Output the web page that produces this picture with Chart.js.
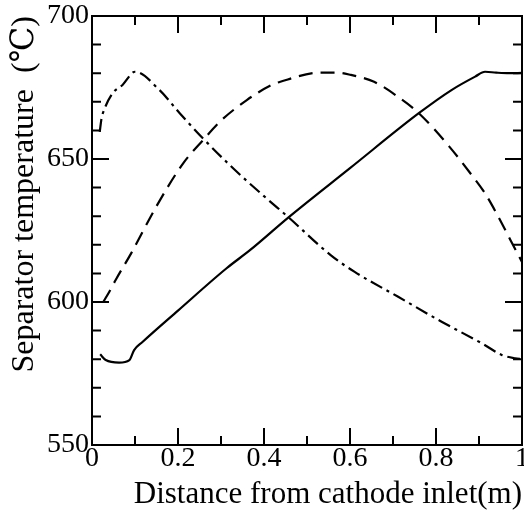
<!DOCTYPE html>
<html>
<head>
<meta charset="utf-8">
<script src="https://cdn.jsdelivr.net/npm/chart.js@4.4.1/dist/chart.umd.min.js"></script>
<style>
  html, body { margin: 0; padding: 0; background: #fff; }
  #wrap { width: 524px; height: 512px; }
</style>
</head>
<body>
<div id="wrap"><canvas id="c" width="524" height="512"></canvas></div>
<script>
// ---- data ----
const solidX = [0.019, 0.032, 0.063, 0.087, 0.098, 0.118, 0.2, 0.313, 0.368, 0.457, 0.6, 0.76, 0.836, 0.891, 0.914, 0.94, 0.97, 1.0];
const solidY = [581.7, 579.7, 578.8, 579.7, 583.2, 586.1, 597, 611.8, 618.2, 629.6, 646.8, 666, 674.1, 678.8, 680.5, 680.2, 680, 680.1];

const dashX = [0.026, 0.04, 0.055, 0.091, 0.15, 0.212, 0.26, 0.297, 0.36, 0.418, 0.438, 0.532, 0.571, 0.602, 0.656, 0.711, 0.76, 0.83, 0.883, 0.914, 0.945, 0.973, 1.0];
const dashY = [600, 603.5, 607.7, 617, 633.5, 648.5, 656.9, 663, 670.6, 675.9, 677, 680.2, 680.2, 679.4, 677, 671.8, 666, 654.5, 644.4, 638, 629.8, 621.7, 614];

const dashDotX = [0.018, 0.022, 0.028, 0.048, 0.071, 0.1, 0.157, 0.204, 0.26, 0.33, 0.4, 0.457, 0.555, 0.61, 0.711, 0.813, 0.906, 0.953, 0.984, 1.0];
const dashDotY = [659.5, 664, 667.1, 673, 675.9, 680.5, 674.1, 666, 656.9, 646.5, 637, 629.6, 616.4, 610.6, 601.9, 593.1, 585.6, 581.5, 580.3, 580];

const xTickValues = [0, 0.2, 0.4, 0.6, 0.8, 1];
const xTickLabels = ['0', '0.2', '0.4', '0.6', '0.8', '1'];
const xMinorTicks = [0.1, 0.3, 0.5, 0.7, 0.9];
const yTickValues = [550, 600, 650, 700];
const yTickLabels = ['550', '600', '650', '700'];
const yMinorTicks = [560, 570, 580, 590, 610, 620, 630, 640, 660, 670, 680, 690];

const xTitle = 'Distance from cathode inlet(m)';
const yTitle = 'Separator temperature  (\u2103)';

// ---- build ----
const pts = (xs, ys) => xs.map((x, i) => ({x: x, y: ys[i]}));
const FONT = "'Liberation Serif', 'Times New Roman', 'DejaVu Serif', serif";

const frameTicks = {
  id: 'frameTicks',
  afterDatasetsDraw(chart) {
    const {ctx, chartArea: a, scales: {x, y}} = chart;
    ctx.save();
    ctx.strokeStyle = '#000';
    ctx.lineWidth = 2;
    ctx.lineCap = 'butt';
    ctx.strokeRect(a.left, a.top, a.right - a.left, a.bottom - a.top);
    ctx.beginPath();
    const xt = (v, len) => {
      const p = x.getPixelForValue(v);
      ctx.moveTo(p, a.bottom); ctx.lineTo(p, a.bottom - len);
      ctx.moveTo(p, a.top); ctx.lineTo(p, a.top + len);
    };
    const yt = (v, len) => {
      const p = y.getPixelForValue(v);
      ctx.moveTo(a.left, p); ctx.lineTo(a.left + len, p);
      ctx.moveTo(a.right, p); ctx.lineTo(a.right - len, p);
    };
    xTickValues.forEach(v => xt(v, 17));
    xMinorTicks.forEach(v => xt(v, 9));
    yTickValues.forEach(v => yt(v, 17));
    yMinorTicks.forEach(v => yt(v, 9));
    ctx.stroke();
    ctx.restore();
  }
};

const common = {borderColor: '#000', borderWidth: 2.2, pointRadius: 0, fill: false, cubicInterpolationMode: 'monotone', borderCapStyle: 'butt'};

new Chart(document.getElementById('c'), {
  type: 'line',
  data: {
    datasets: [
      Object.assign({label: 'solid', data: pts(solidX, solidY), borderDash: []}, common),
      Object.assign({label: 'dashed', data: pts(dashX, dashY), borderDash: [14, 8]}, common),
      Object.assign({label: 'dashdot', data: pts(dashDotX, dashDotY), borderDash: [13, 5, 3, 5]}, common)
    ]
  },
  options: {
    responsive: false,
    animation: false,
    devicePixelRatio: 1,
    layout: {padding: {top: 16, right: 2, bottom: 0, left: 0}},
    plugins: {legend: {display: false}, tooltip: {enabled: false}},
    scales: {
      x: {
        type: 'linear', min: 0, max: 1,
        grid: {display: false, drawTicks: false},
        border: {display: false},
        afterBuildTicks: s => { s.ticks = xTickValues.map(v => ({value: v})); },
        ticks: {
          callback: (v, i) => xTickLabels[i],
          color: '#000', font: {family: FONT, size: 28, lineHeight: 1}, padding: 0,
          maxRotation: 0, autoSkip: false
        },
        title: {display: true, text: xTitle, align: 'end', color: '#000', font: {family: FONT, size: 31, lineHeight: 1.1}, padding: {top: 0, bottom: 0}},
        afterFit: s => { s.height = 67; s.paddingLeft = 0; s.paddingRight = 0; }
      },
      y: {
        type: 'linear', min: 550, max: 700,
        grid: {display: false, drawTicks: false},
        border: {display: false},
        afterBuildTicks: s => { s.ticks = yTickValues.map(v => ({value: v})); },
        ticks: {
          callback: (v, i) => yTickLabels[i],
          color: '#000', font: {family: FONT, size: 28, lineHeight: 1}, padding: 3,
          autoSkip: false
        },
        title: {display: true, text: yTitle, align: 'end', color: '#000', font: {family: FONT, size: 32, lineHeight: 1.2}, padding: {top: 5, bottom: 0}},
        afterFit: s => { s.width = 92; s.paddingTop = 0; s.paddingBottom = 0; }
      }
    }
  },
  plugins: [frameTicks]
});
</script>
</body>
</html>
